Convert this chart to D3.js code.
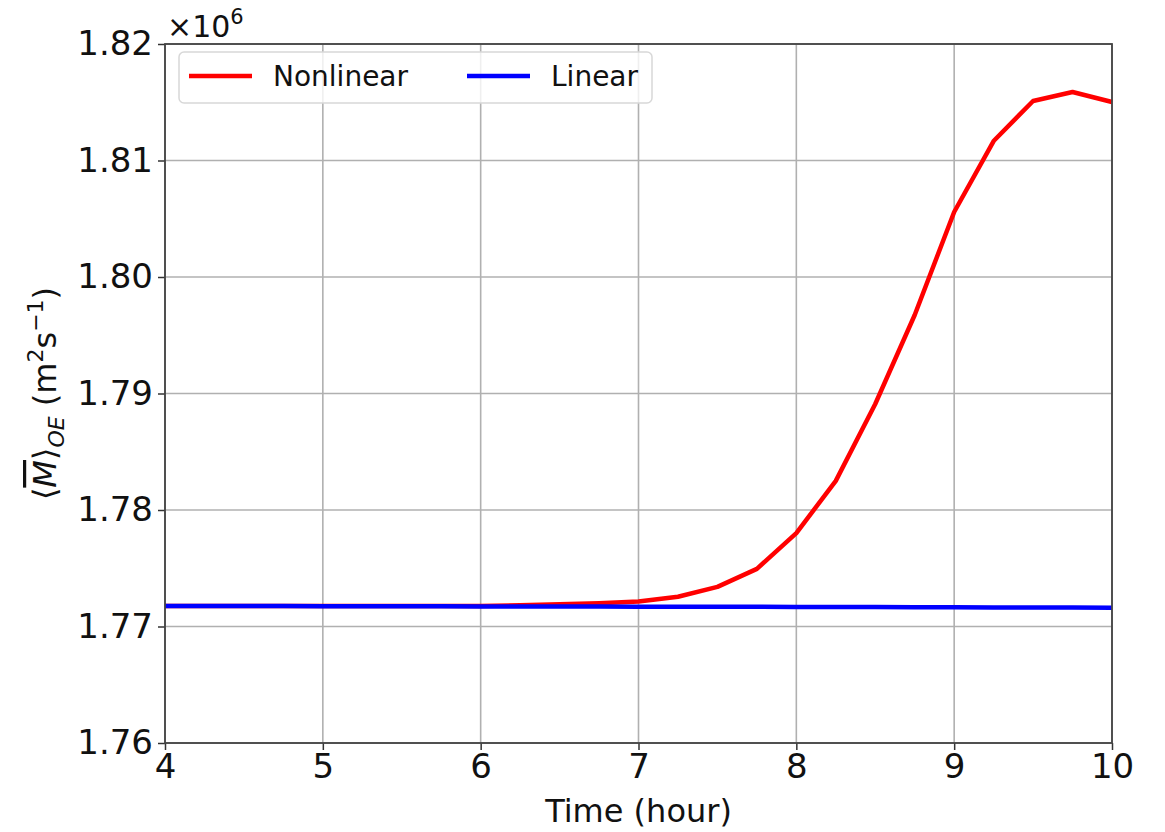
<!DOCTYPE html>
<html>
<head>
<meta charset="utf-8">
<script src="https://d3js.org/d3.v7.min.js"></script>
<style>
  body { margin: 0; background: #fff; }
  text { font-family: "DejaVu Sans", sans-serif; }
</style>
</head>
<body>
<div id="chart"></div>
<script>
// hours, sampled every quarter hour
const times = [4, 4.25, 4.5, 4.75, 5, 5.25, 5.5, 5.75, 6, 6.25, 6.5, 6.75, 7,
               7.25, 7.5, 7.75, 8, 8.25, 8.5, 8.75, 9, 9.25, 9.5, 9.75, 10];
// values in units of 1e6 m^2 s^-1
const nonlinear = [1.77176, 1.77176, 1.77176, 1.77176, 1.77176, 1.77176, 1.77176, 1.77176,
                   1.77177, 1.77182, 1.77190, 1.77200, 1.77215, 1.77255, 1.77340, 1.77495,
                   1.77802, 1.78250, 1.78910, 1.79674, 1.80558, 1.81167, 1.81511, 1.81588, 1.81502];
const linear = [1.77176, 1.77176, 1.77175, 1.77175, 1.77174, 1.77174, 1.77173, 1.77173,
                1.77172, 1.77172, 1.77171, 1.77171, 1.77170, 1.77170, 1.77169, 1.77169,
                1.77168, 1.77167, 1.77167, 1.77166, 1.77165, 1.77164, 1.77164, 1.77163, 1.77162];
const xTicks = [4, 5, 6, 7, 8, 9, 10];
const yTicks = [1.76, 1.77, 1.78, 1.79, 1.80, 1.81, 1.82];
const seriesNames = ["Nonlinear", "Linear"];
const seriesColors = ["#ff0000", "#0000ff"];

const W = 1165, H = 832;
const margin = {top: 44, right: 53, bottom: 89, left: 165};
const w = W - margin.left - margin.right;
const h = H - margin.top - margin.bottom;

const svg = d3.select("#chart").append("svg")
    .attr("width", W).attr("height", H);
const g = svg.append("g")
    .attr("transform", "translate(" + margin.left + "," + margin.top + ")");

const x = d3.scaleLinear().domain([4, 10]).range([0, w]);
const y = d3.scaleLinear().domain([1.76, 1.82]).range([h, 0]);

// grid
g.append("g").selectAll("line").data(xTicks).join("line")
    .attr("x1", d => x(d)).attr("x2", d => x(d))
    .attr("y1", 0).attr("y2", h)
    .attr("stroke", "#b0b0b0").attr("stroke-width", 1.6);
g.append("g").selectAll("line").data(yTicks).join("line")
    .attr("x1", 0).attr("x2", w)
    .attr("y1", d => y(d)).attr("y2", d => y(d))
    .attr("stroke", "#b0b0b0").attr("stroke-width", 1.6);

// lines
const line = d3.line().x((d, i) => x(times[i])).y(d => y(d));
g.append("path").datum(nonlinear)
    .attr("d", line).attr("fill", "none")
    .attr("stroke", seriesColors[0]).attr("stroke-width", 4.5)
    .attr("stroke-linejoin", "round");
g.append("path").datum(linear)
    .attr("d", line).attr("fill", "none")
    .attr("stroke", seriesColors[1]).attr("stroke-width", 4.5)
    .attr("stroke-linejoin", "round");

// axes
const xAxis = d3.axisBottom(x).tickValues(xTicks).tickSize(7).tickPadding(4)
    .tickFormat(d3.format("d"));
const yAxis = d3.axisLeft(y).tickValues(yTicks).tickSize(7).tickPadding(5)
    .tickFormat(d3.format(".2f"));

const gx = g.append("g").attr("transform", "translate(0," + h + ")").call(xAxis);
const gy = g.append("g").call(yAxis);
[gx, gy].forEach(a => {
  a.select(".domain").remove();
  a.selectAll(".tick line").attr("stroke", "#333").attr("stroke-width", 1.5);
  a.selectAll(".tick text").attr("fill", "#111")
      .style("font-family", "DejaVu Sans").style("font-size", "34px");
});

// frame
g.append("rect").attr("width", w).attr("height", h)
    .attr("fill", "none").attr("stroke", "#444").attr("stroke-width", 1.8);

// offset text
svg.append("text").attr("x", 167).attr("y", 37)
    .attr("fill", "#111").style("font-size", "30px")
    .text("×10")
  .append("tspan").attr("dy", -13).style("font-size", "21px").text("6");

// x label
svg.append("text").attr("x", margin.left + w / 2).attr("y", 822)
    .attr("text-anchor", "middle").attr("fill", "#111")
    .style("font-size", "32px").text("Time (hour)");

// y label
const yl = svg.append("text")
    .attr("transform", "translate(56," + (margin.top + h / 2) + ") rotate(-90)")
    .attr("text-anchor", "middle").attr("fill", "#111")
    .style("font-size", "32px");
yl.append("tspan").text("⟨");
yl.append("tspan").style("font-style", "italic")
    .style("text-decoration", "overline").text("M");
yl.append("tspan").text("⟩");
yl.append("tspan").attr("dy", 8).style("font-style", "italic")
    .style("font-size", "22px").text("OE");
yl.append("tspan").attr("dy", -8).text(" (m");
yl.append("tspan").attr("dy", -13).style("font-size", "22px").text("2");
yl.append("tspan").attr("dy", 13).text("s");
yl.append("tspan").attr("dy", -13).style("font-size", "22px").text("−1");
yl.append("tspan").attr("dy", 13).text(")");

// legend
const lg = svg.append("g");
lg.append("rect").attr("x", 179).attr("y", 52).attr("width", 473).attr("height", 51)
    .attr("rx", 5).attr("fill", "#fff").attr("fill-opacity", 0.8)
    .attr("stroke", "#d8d8d8").attr("stroke-width", 1.5);
const items = lg.selectAll("g.item").data(seriesNames).join("g")
    .attr("class", "item")
    .attr("transform", (d, i) => "translate(" + (189 + i * 278) + ",76)");
items.append("line").attr("x1", 0).attr("x2", 63).attr("y1", 0).attr("y2", 0)
    .attr("stroke", (d, i) => seriesColors[i]).attr("stroke-width", 4.5);
items.append("text").attr("x", 84).attr("y", 10)
    .attr("fill", "#111").style("font-size", "28px").text(d => d);
</script>
</body>
</html>
